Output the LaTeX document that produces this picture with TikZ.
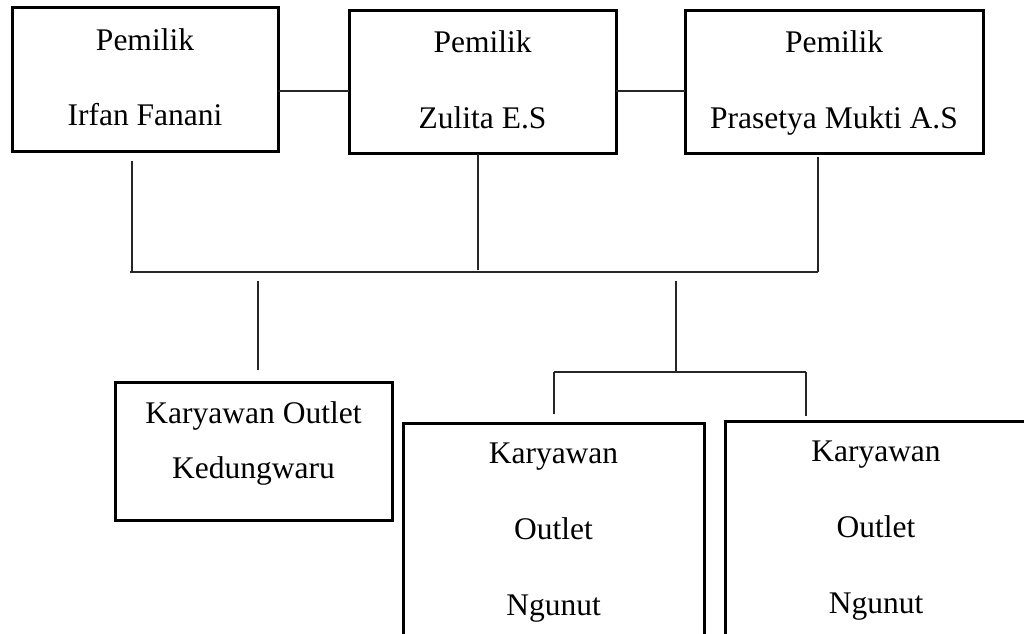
\documentclass[tikz,border=0pt]{standalone}
\usepackage{fontspec}
\setmainfont{Liberation Serif}
\begin{document}
\begin{tikzpicture}[x=1pt,y=-1pt,
  box/.style={draw=black,line width=3pt,fill=none,inner sep=0pt,outer sep=0pt},
  lbl/.style={anchor=base,inner sep=0pt,font=\fontsize{31.5}{36}\selectfont},
  conn/.style={draw=black!85,line width=1.4pt}]
\useasboundingbox (0,0) rectangle (1024,633);
\clip (0,0) rectangle (1024,633);
\fill[white] (0,0) rectangle (1024,633);
% boxes
\node[box,minimum width=266pt,minimum height=144pt] (b1) at (145,79) {};
\node[box,minimum width=267pt,minimum height=143pt] (b2) at (482.5,81.5) {};
\node[box,minimum width=298pt,minimum height=143pt] (b3) at (834,81.5) {};
\node[box,minimum width=277pt,minimum height=138pt] (b4) at (253.5,451) {};
\node[box,minimum width=301pt,minimum height=257pt] (b5) at (553.5,551.5) {};
\node[box,minimum width=302pt,minimum height=259pt] (b6) at (876,550.5) {};
% texts
\node[lbl] (t1a) at (145,50) {Pemilik};
\node[lbl] (t1b) at (145,125) {Irfan Fanani};
\node[lbl] (t2a) at (482.5,52) {Pemilik};
\node[lbl] (t2b) at (482.5,128) {Zulita E.S};
\node[lbl] (t3a) at (834,52) {Pemilik};
\node[lbl] (t3b) at (834,128) {Prasetya Mukti A.S};
\node[lbl] (t4a) at (253.5,423) {Karyawan Outlet};
\node[lbl] (t4b) at (253.5,478) {Kedungwaru};
\node[lbl] (t5a) at (553.5,463) {Karyawan};
\node[lbl] (t5b) at (553.5,539) {Outlet};
\node[lbl] (t5c) at (553.5,615) {Ngunut};
\node[lbl] (t6a) at (876,461) {Karyawan};
\node[lbl] (t6b) at (876,537) {Outlet};
\node[lbl] (t6c) at (876,613) {Ngunut};
% coordinates
\coordinate (h12) at (0,91);
\coordinate (v1t) at (132,161);
\coordinate (v1b) at (132,272);
\coordinate (v2t) at (478,154);
\coordinate (v2b) at (478,270);
\coordinate (v3t) at (818,157);
\coordinate (v3b) at (818,272);
\coordinate (hl) at (130,272);
\coordinate (hr) at (818,272);
\coordinate (d1t) at (258,281);
\coordinate (d1b) at (258,370);
\coordinate (d2t) at (676,281);
\coordinate (d2b) at (676,372);
\coordinate (bl) at (554,372);
\coordinate (br) at (806,372);
\coordinate (blb) at (554,414);
\coordinate (brb) at (806,416);
% connectors
\draw[conn] (b1.east |- h12) -- (b2.west |- h12);
\draw[conn] (b2.east |- h12) -- (b3.west |- h12);
\draw[conn] (v1t) -- (v1b);
\draw[conn] (v2t) -- (v2b);
\draw[conn] (v3t) -- (v3b);
\draw[conn] (hl) -- (hr);
\draw[conn] (d1t) -- (d1b);
\draw[conn] (d2t) -- (d2b);
\draw[conn] (bl) -- (br);
\draw[conn] (bl) -- (blb);
\draw[conn] (br) -- (brb);
\end{tikzpicture}
\end{document}
